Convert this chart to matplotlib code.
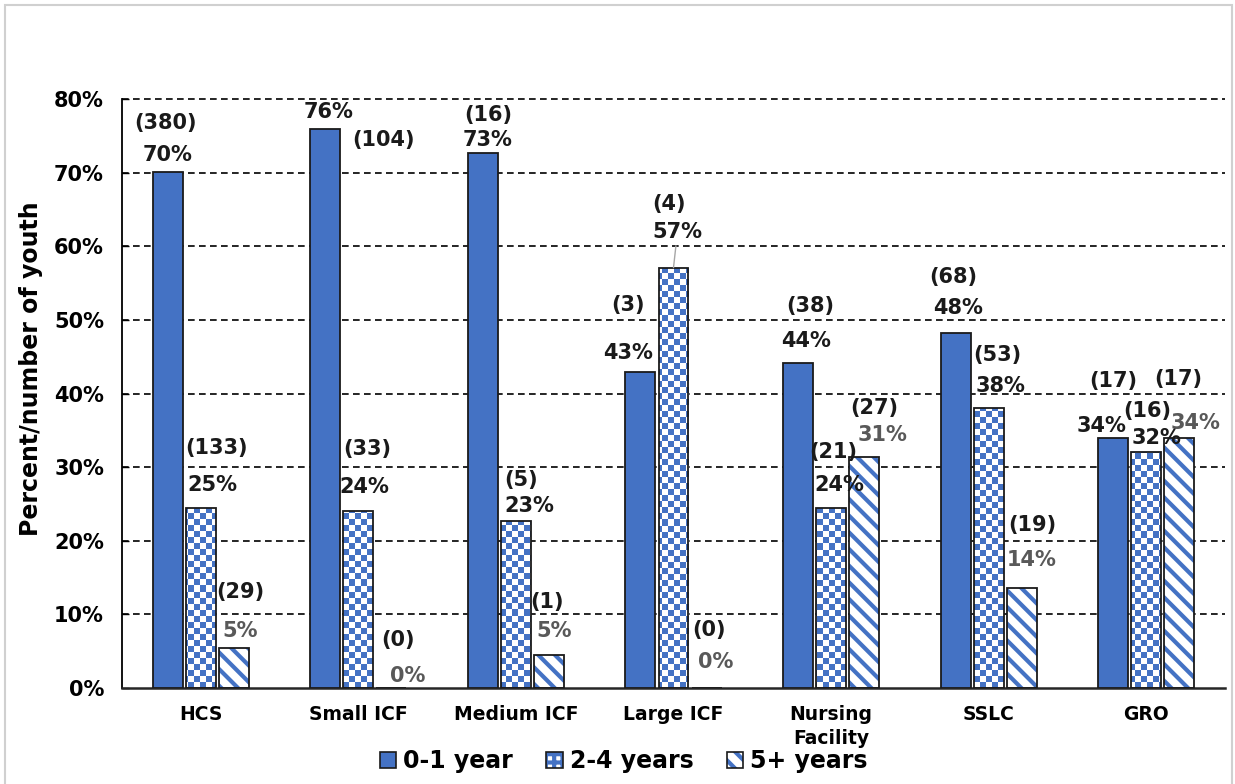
import numpy as np
import matplotlib
matplotlib.use("Agg")
import matplotlib.pyplot as plt
from matplotlib.colors import ListedColormap
from matplotlib.patches import Patch, Rectangle
from matplotlib.legend_handler import HandlerTuple

# data
categories = ["HCS", "Small ICF", "Medium ICF", "Large ICF", "Nursing\nFacility", "SSLC", "GRO"]
series = ["0-1 year", "2-4 years", "5+ years"]
pct_0_1 = [70.1, 75.9, 72.7, 42.9, 44.2, 48.2, 34.0]
pct_2_4 = [24.5, 24.1, 22.7, 57.1, 24.4, 38.0, 32.0]
pct_5 = [5.4, 0.0, 4.5, 0.0, 31.4, 13.6, 34.0]
n_0_1 = [380, 104, 16, 3, 38, 68, 17]
n_2_4 = [133, 33, 5, 4, 21, 53, 16]
n_5 = [29, 0, 1, 0, 27, 19, 17]

# label placement (pixels from bar top centre, up is positive) - hand moved in the original
off_n = [
    [(-2, 49), (58, -11), (5, 38), (-12, 67), (12, 57), (-2, 56), (0, 57)],
    [(16, 60), (9, 62), (5, 41), (-5, 64), (2, 56), (9, 53), (1, 41)],
    [(6, 56), (7, 48), (-2, 53), (2, 58), (10, 49), (11, 63), (-1, 59)],
]
off_p = [
    [(0, 17), (3, 17), (5, 13), (-12, 19), (8, 22), (3, 25), (-12, 12)],
    [(12, 23), (6, 24), (13, 15), (4, 36), (8, 23), (12, 22), (10, 14)],
    [(6, 17), (16, 12), (5, 24), (9, 26), (18, 22), (10, 28), (16, 15)],
]

BLUE = "#4472C4"
EDGE = "#1a1a1a"
plt.rcParams["font.family"] = ["DejaVu Sans"]
plt.rcParams["font.weight"] = "bold"
plt.rcParams["hatch.linewidth"] = 3.0

fig = plt.figure(figsize=(12.35, 7.84), dpi=100)
ax = fig.add_axes([122 / 1235, 1 - 688 / 784, 1103 / 1235, 589 / 784])

x = np.arange(len(categories))
w = 0.19
step = 0.21

for v in range(10, 81, 10):
    ax.axhline(v, color="black", lw=1.2, ls=(0, (4, 2.6)), zorder=0, clip_on=False)

# 0-1 year: solid
b0 = ax.bar(x - step, pct_0_1, w, color=BLUE, edgecolor=EDGE, lw=1.3, zorder=3)

# 2-4 years: checkerboard clipped into each bar
rows, cols = 98, 184
checker = np.indices((rows, cols)).sum(axis=0) % 2
b1 = ax.bar(x, pct_2_4, w, facecolor="none", edgecolor=EDGE, lw=1.3, zorder=4)
for bar in b1:
    im = ax.imshow(checker, cmap=ListedColormap(["white", BLUE]), extent=(-0.5, 6.5, 0, 80),
                   aspect="auto", interpolation="nearest", zorder=2, origin="lower")
    im.set_clip_path(bar)

# 5+ years: diagonal stripes
ax.bar(x + step, pct_5, w, facecolor="white", edgecolor=BLUE, hatch="\\\\", lw=0, zorder=2)
b2 = ax.bar(x + step, pct_5, w, facecolor="none", edgecolor=EDGE, lw=1.3, zorder=4)

ax.set_xlim(-0.5, len(categories) - 0.5)
ax.set_ylim(0, 80)

pcts = [pct_0_1, pct_2_4, pct_5]
counts = [n_0_1, n_2_4, n_5]
pct_colors = ["#1a1a1a", "#1a1a1a", "#595959"]
for s in range(3):
    for i in range(len(categories)):
        xc = x[i] + (s - 1) * step
        yv = pcts[s][i]
        dx, dy = off_n[s][i]
        ax.annotate(f"({counts[s][i]})", (xc, yv), xytext=(dx, dy), textcoords="offset pixels",
                    ha="center", va="center", fontsize=15, fontweight="bold", color="#1a1a1a", zorder=6)
        dx, dy = off_p[s][i]
        arrow = None
        if dy > 30:
            arrow = dict(arrowstyle="-", color="#a6a6a6", lw=1, shrinkA=1, shrinkB=0)
        ax.annotate(f"{int(yv + 0.5)}%", (xc, yv), xytext=(dx, dy), textcoords="offset pixels",
                    ha="center", va="center", fontsize=15, fontweight="bold", color=pct_colors[s],
                    arrowprops=arrow, zorder=6)

ax.set_yticks(range(0, 81, 10))
ax.set_yticklabels([f"{v}%" for v in range(0, 81, 10)], fontsize=15, fontweight="bold")
ax.set_xticks(x)
ax.set_xticklabels(categories, fontsize=13.5, fontweight="bold", linespacing=1.35)
ax.tick_params(axis="y", direction="in", length=5, width=1, pad=13)
ax.tick_params(axis="x", length=0, pad=12)
ax.set_ylabel("Percent/number of youth", fontsize=17, fontweight="bold")
ax.yaxis.set_label_coords(-0.072, 0.542)

for side in ["top", "right"]:
    ax.spines[side].set_visible(False)
ax.spines["left"].set_color("black")
ax.spines["left"].set_linewidth(1.3)
ax.spines["bottom"].set_color("#262626")
ax.spines["bottom"].set_linewidth(1.8)

h0 = Patch(facecolor=BLUE, edgecolor=EDGE, lw=1.2)
h1 = (Patch(facecolor="white", edgecolor=BLUE, hatch="++", lw=0), Patch(facecolor="none", edgecolor=EDGE, lw=1.2))
h2 = (Patch(facecolor="white", edgecolor=BLUE, hatch="\\\\", lw=0), Patch(facecolor="none", edgecolor=EDGE, lw=1.2))
fig.legend([h0, h1, h2], series, loc="center", bbox_to_anchor=(0.505, 0.029), ncol=3, frameon=False,
           prop=dict(size=17, weight="bold"), handlelength=0.7, handleheight=0.7, handletextpad=0.3,
           columnspacing=1.4, handler_map={tuple: HandlerTuple(ndivide=1)})

fig.patches.append(Rectangle((5 / 1235, -0.02), 1 - 8 / 1235, 1.0 - 5 / 784 + 0.02,
                             transform=fig.transFigure, fill=False, edgecolor="#d0d0d0", lw=1.5))

fig.savefig("out.png", dpi=100, facecolor="white")
